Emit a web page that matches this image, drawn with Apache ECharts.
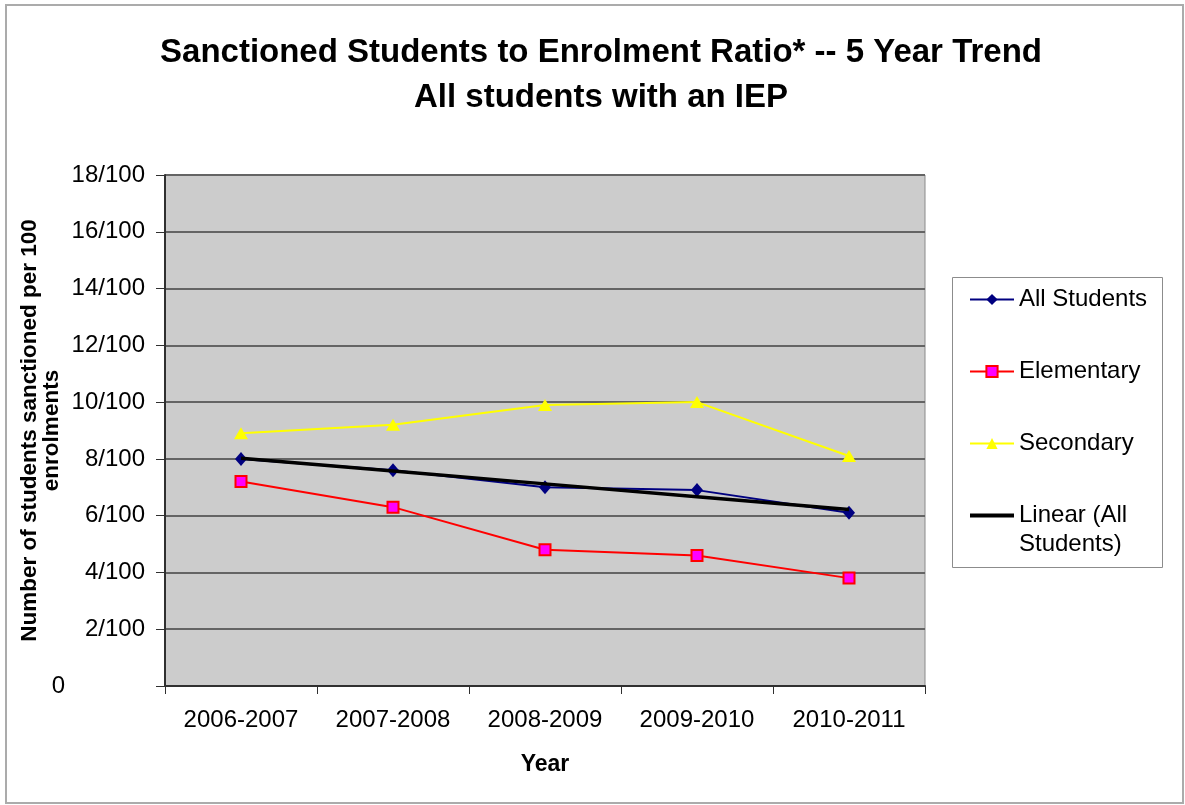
<!DOCTYPE html>
<html>
<head>
<meta charset="utf-8">
<title>Sanctioned Students to Enrolment Ratio</title>
<script src="https://cdn.jsdelivr.net/npm/echarts@6/dist/echarts.min.js"></script>
<style>
  html, body { margin: 0; padding: 0; background: #ffffff; }
  #chart { width: 1185px; height: 805px; }
</style>
</head>
<body>
<div id="chart"></div>
<script>
// School years on the category axis
const years = ['2006-2007', '2007-2008', '2008-2009', '2009-2010', '2010-2011'];

// Sanctioned students per 100 enrolments
const allStudents = [8.0, 7.6, 7.0, 6.9, 6.1];
const elementary = [7.2, 6.3, 4.8, 4.6, 3.8];
const secondary = [8.9, 9.2, 9.9, 10.0, 8.1];

// Value axis ticks
const yTicks = [0, 2, 4, 6, 8, 10, 12, 14, 16, 18];

const seriesNames = ['All Students', 'Elementary', 'Secondary', 'Linear (All Students)'];

// Least-squares trend line through the "All Students" series
function linearTrend(values) {
  const n = values.length;
  let sx = 0, sy = 0, sxx = 0, sxy = 0;
  values.forEach((v, i) => {
    const x = i + 1;
    sx += x; sy += v; sxx += x * x; sxy += x * v;
  });
  const slope = (n * sxy - sx * sy) / (n * sxx - sx * sx);
  const intercept = (sy - slope * sx) / n;
  return values.map((_, i) => +(intercept + slope * (i + 1)).toFixed(4));
}
const allTrend = linearTrend(allStudents);

const FONT = 'Arial, "Liberation Sans", sans-serif';

const chart = echarts.init(document.getElementById('chart'), null, { renderer: 'canvas' });

chart.setOption({
  backgroundColor: '#ffffff',
  animation: false,
  textStyle: { fontFamily: FONT, color: '#000000' },
  title: {
    text: 'Sanctioned Students to Enrolment Ratio* -- 5 Year Trend\nAll students with an IEP',
    left: 596,
    top: 25,
    textAlign: 'center',
    textStyle: {
      fontFamily: FONT,
      fontSize: 33,
      fontWeight: 'bold',
      lineHeight: 45,
      color: '#000000'
    }
  },
  graphic: [
    {
      // outer frame of the chart
      type: 'rect',
      shape: { x: 6, y: 5, width: 1177, height: 798 },
      style: { fill: 'none', stroke: '#ababab', lineWidth: 2 },
      silent: true,
      z: -10
    },
    {
      // legend box
      type: 'rect',
      shape: { x: 952.5, y: 277.5, width: 210, height: 290 },
      style: { fill: '#ffffff', stroke: '#8c8c8c', lineWidth: 1 },
      silent: true,
      z: -5
    }
  ],
  legend: {
    orient: 'vertical',
    left: 969,
    top: 258.5,
    padding: 0,
    itemWidth: 44,
    itemHeight: 14,
    itemGap: -10,
    textStyle: {
      fontFamily: FONT,
      fontSize: 24,
      color: '#000000',
      rich: {
        a: { fontFamily: FONT, fontSize: 24, lineHeight: 29, color: '#000000' },
        e: { fontFamily: FONT, fontSize: 24, lineHeight: 29 }
      }
    },
    // each entry is a three-row block centred on its icon, so the two-line
    // trend entry keeps its icon level with the first row of text
    formatter: function (name) {
      if (name === 'Linear (All Students)') {
        return '{e| }\n{a|Linear (All}\n{a|Students)}';
      }
      return '{e| }\n{a|' + name + '}\n{e| }';
    },
    data: [
      seriesNames[0],
      seriesNames[1],
      seriesNames[2],
      { name: seriesNames[3], icon: 'path://M0,0 L44,0 L44,4 L0,4 Z' }
    ]
  },
  grid: {
    left: 165,
    top: 175,
    width: 760,
    height: 511,
    show: true,
    backgroundColor: '#cccccc',
    borderColor: '#8a8a8a',
    borderWidth: 1,
    containLabel: false,
    outerBoundsMode: 'none'
  },
  xAxis: {
    type: 'category',
    data: years,
    boundaryGap: true,
    name: 'Year',
    nameLocation: 'middle',
    nameGap: 67,
    nameTextStyle: { fontFamily: FONT, fontSize: 23, fontWeight: 'bold', color: '#000000' },
    axisLine: { show: true, lineStyle: { color: '#303030', width: 2 } },
    axisTick: { show: true, alignWithLabel: false, length: 8, lineStyle: { color: '#303030', width: 1 } },
    axisLabel: { fontFamily: FONT, fontSize: 24, color: '#000000', margin: 22, interval: 0 },
    splitLine: { show: false }
  },
  yAxis: {
    type: 'value',
    min: yTicks[0],
    max: yTicks[yTicks.length - 1],
    interval: yTicks[1] - yTicks[0],
    name: 'Number of students sanctioned per 100\nenrolments',
    nameLocation: 'middle',
    nameGap: 102,
    nameMoveOverlap: false,
    nameTextStyle: { fontFamily: FONT, fontSize: 22.5, fontWeight: 'bold', lineHeight: 22, color: '#000000' },
    axisLine: { show: true, lineStyle: { color: '#303030', width: 2 } },
    axisTick: { show: true, inside: false, length: 9, lineStyle: { color: '#303030', width: 1 } },
    axisLabel: {
      fontFamily: FONT,
      fontSize: 24,
      color: '#000000',
      margin: 20,
      formatter: function (v) { return v === 0 ? '{z|0}' : v + '/100'; },
      rich: { z: { fontFamily: FONT, fontSize: 24, color: '#000000', padding: [0, 80, 0, 0] } }
    },
    splitLine: { show: true, lineStyle: { color: '#646464', width: 2 } }
  },
  series: [
    {
      name: seriesNames[0],
      type: 'line',
      data: allStudents,
      symbol: 'diamond',
      symbolSize: [12, 14],
      lineStyle: { color: '#000080', width: 2 },
      itemStyle: { color: '#000080' },
      z: 3
    },
    {
      name: seriesNames[1],
      type: 'line',
      data: elementary,
      symbol: 'rect',
      symbolSize: 11,
      lineStyle: { color: '#ff0000', width: 2 },
      itemStyle: { color: '#ff00ff', borderColor: '#ff0000', borderWidth: 2 },
      z: 3
    },
    {
      name: seriesNames[2],
      type: 'line',
      data: secondary,
      symbol: 'triangle',
      symbolSize: [14, 12],
      lineStyle: { color: '#ffff00', width: 2 },
      itemStyle: { color: '#ffff00' },
      z: 3
    },
    {
      name: seriesNames[3],
      type: 'line',
      data: allTrend,
      symbol: 'none',
      lineStyle: { color: '#000000', width: 3.5 },
      itemStyle: { color: '#000000' },
      z: 4
    }
  ]
});
</script>
</body>
</html>
